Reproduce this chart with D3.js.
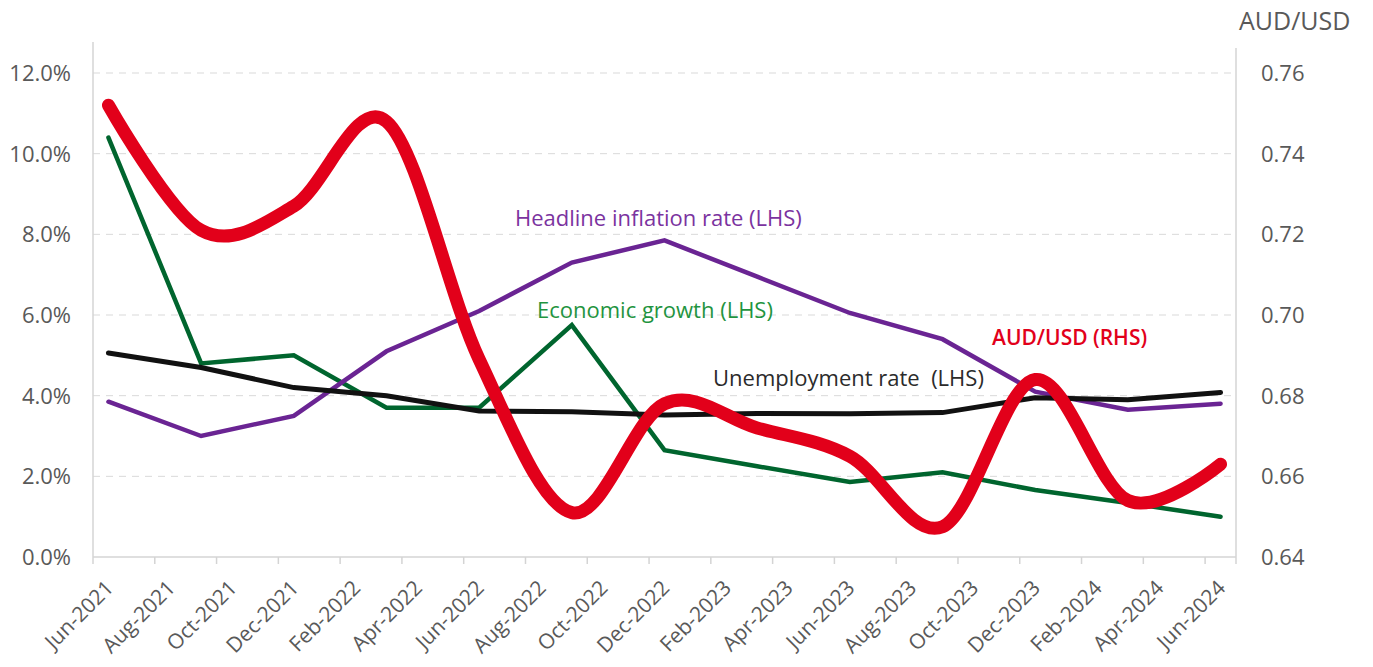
<!DOCTYPE html>
<html lang="en">

<head>
  <meta charset="UTF-8">
  <title>Australia: growth, inflation, unemployment and AUD/USD</title>
  <script src="https://cdnjs.cloudflare.com/ajax/libs/d3/7.8.5/d3.min.js"></script>
  <style>
    body { margin: 0; background: #fff; }
    svg { font-family: "Open Sans", "Noto Sans", sans-serif; }
  </style>
</head>

<body>
  <svg></svg>
  <script>
    // quarterly observations
    const dates = ['Jun-2021', 'Sep-2021', 'Dec-2021', 'Mar-2022', 'Jun-2022', 'Sep-2022', 'Dec-2022',
      'Mar-2023', 'Jun-2023', 'Sep-2023', 'Dec-2023', 'Mar-2024', 'Jun-2024'];
    const growth = [10.4, 4.8, 5.0, 3.7, 3.7, 5.75, 2.65, 2.25, 1.86, 2.1, 1.66, 1.34, 1.0];
    const unemployment = [5.06, 4.7, 4.2, 4.0, 3.62, 3.6, 3.52, 3.56, 3.55, 3.58, 3.95, 3.9, 4.08];
    const inflation = [3.85, 3.0, 3.5, 5.1, 6.1, 7.3, 7.85, 6.95, 6.05, 5.4, 4.1, 3.65, 3.8];
    const audusd = [0.752, 0.721, 0.727, 0.748, 0.689, 0.651, 0.678, 0.672, 0.665, 0.6475, 0.684, 0.654, 0.663];

    const tickLabels = ['Jun-2021', 'Aug-2021', 'Oct-2021', 'Dec-2021', 'Feb-2022', 'Apr-2022', 'Jun-2022',
      'Aug-2022', 'Oct-2022', 'Dec-2022', 'Feb-2023', 'Apr-2023', 'Jun-2023', 'Aug-2023', 'Oct-2023',
      'Dec-2023', 'Feb-2024', 'Apr-2024', 'Jun-2024'];
    const leftTicks = [0, 2, 4, 6, 8, 10, 12];
    const rightTicks = [0.64, 0.66, 0.68, 0.70, 0.72, 0.74, 0.76];

    const W = 1373, H = 667;
    const svg = d3.select('svg').attr('width', W).attr('height', H);

    // every month on the date axis
    const fmt = d3.timeFormat('%b-%Y');
    const months = d3.timeMonth.range(new Date(2021, 5, 1), new Date(2024, 6, 1)).map(fmt);

    const x = d3.scaleBand().domain(months).range([93, 1236]).padding(0);
    const cx = m => x(m) + x.bandwidth() / 2;
    const yL = d3.scaleLinear().domain([0, 12]).range([557, 73]);
    const yR = d3.scaleLinear().domain([0.64, 0.76]).range([557, 73]);

    const grey = '#595959';

    // gridlines
    svg.append('g')
      .selectAll('line')
      .data(leftTicks.slice(1))
      .enter()
      .append('line')
      .attr('x1', 93).attr('x2', 1236)
      .attr('y1', d => yL(d)).attr('y2', d => yL(d))
      .style('stroke', '#d9d9d9')
      .style('stroke-width', '1px')
      .style('stroke-dasharray', '7,6');

    // axis lines
    svg.append('line').attr('x1', 93).attr('x2', 93).attr('y1', 42).attr('y2', 557)
      .style('stroke', '#d4d4d4').style('stroke-width', '1.5px');
    svg.append('line').attr('x1', 1236).attr('x2', 1236).attr('y1', 48).attr('y2', 557)
      .style('stroke', '#d4d4d4').style('stroke-width', '1.5px');
    svg.append('line').attr('x1', 93).attr('x2', 1236).attr('y1', 557).attr('y2', 557)
      .style('stroke', '#d4d4d4').style('stroke-width', '1.5px');

    // x ticks at band boundaries
    svg.append('g')
      .selectAll('line')
      .data(tickLabels.map(d => x(d)).concat([1236]))
      .enter()
      .append('line')
      .attr('x1', d => d).attr('x2', d => d)
      .attr('y1', 557).attr('y2', 564)
      .style('stroke', '#d4d4d4').style('stroke-width', '1.5px');

    svg.append('g')
      .selectAll('text')
      .data(tickLabels)
      .enter()
      .append('text')
      .attr('transform', d => `translate(${cx(d) + 1},584) rotate(-45)`)
      .attr('text-anchor', 'end')
      .attr('dy', '0.35em')
      .style('font-size', '21px')
      .style('fill', grey)
      .text(d => d);

    // left axis labels
    svg.append('g')
      .selectAll('text')
      .data(leftTicks)
      .enter()
      .append('text')
      .attr('x', 71)
      .attr('y', d => yL(d))
      .attr('dy', '0.36em')
      .attr('text-anchor', 'end')
      .style('font-size', '22px')
      .style('fill', grey)
      .text(d => d3.format('.1f')(d) + '%');

    // right axis labels
    svg.append('g')
      .selectAll('text')
      .data(rightTicks)
      .enter()
      .append('text')
      .attr('x', 1261)
      .attr('y', d => yR(d))
      .attr('dy', '0.36em')
      .style('font-size', '22px')
      .style('fill', grey)
      .text(d => d3.format('.2f')(d));

    svg.append('text')
      .attr('x', 1239).attr('y', 30)
      .style('font-size', '25px')
      .style('fill', grey)
      .text('AUD/USD');

    // series
    const lineL = d3.line().x((d, i) => cx(dates[i])).y(d => yL(d));
    const lineR = d3.line().x((d, i) => cx(dates[i])).y(d => yR(d)).curve(d3.curveCardinal.tension(0));

    const series = [
      { values: growth, color: '#00652e', width: 4.5 },
      { values: inflation, color: '#6a2493', width: 4.5 },
      { values: unemployment, color: '#111111', width: 5 }
    ];

    svg.append('g')
      .selectAll('path')
      .data(series)
      .enter()
      .append('path')
      .attr('d', d => lineL(d.values))
      .style('fill', 'none')
      .style('stroke', d => d.color)
      .style('stroke-width', d => d.width + 'px')
      .style('stroke-linecap', 'round');

    svg.append('path')
      .attr('d', lineR(audusd))
      .style('fill', 'none')
      .style('stroke', '#e2001a')
      .style('stroke-width', '13px')
      .style('stroke-linecap', 'round')
      .style('stroke-linejoin', 'round');

    // series labels
    const labels = [
      { text: 'Headline inflation rate (LHS)', x: 515, y: 226, size: 22, color: '#7b339f', weight: 400 },
      { text: 'Economic growth (LHS)', x: 537, y: 318, size: 22, color: '#1f9440', weight: 400 },
      { text: 'Unemployment rate  (LHS)', x: 713, y: 386, size: 22, color: '#2b2b2b', weight: 400 },
      { text: 'AUD/USD (RHS)', x: 992, y: 345, size: 21, color: '#e2001a', weight: 600 }
    ];

    svg.append('g')
      .selectAll('text')
      .data(labels)
      .enter()
      .append('text')
      .attr('x', d => d.x)
      .attr('y', d => d.y)
      .style('font-size', d => d.size + 'px')
      .style('white-space', 'pre')
      .style('font-weight', d => d.weight)
      .style('fill', d => d.color)
      .text(d => d.text);
  </script>
</body>

</html>
